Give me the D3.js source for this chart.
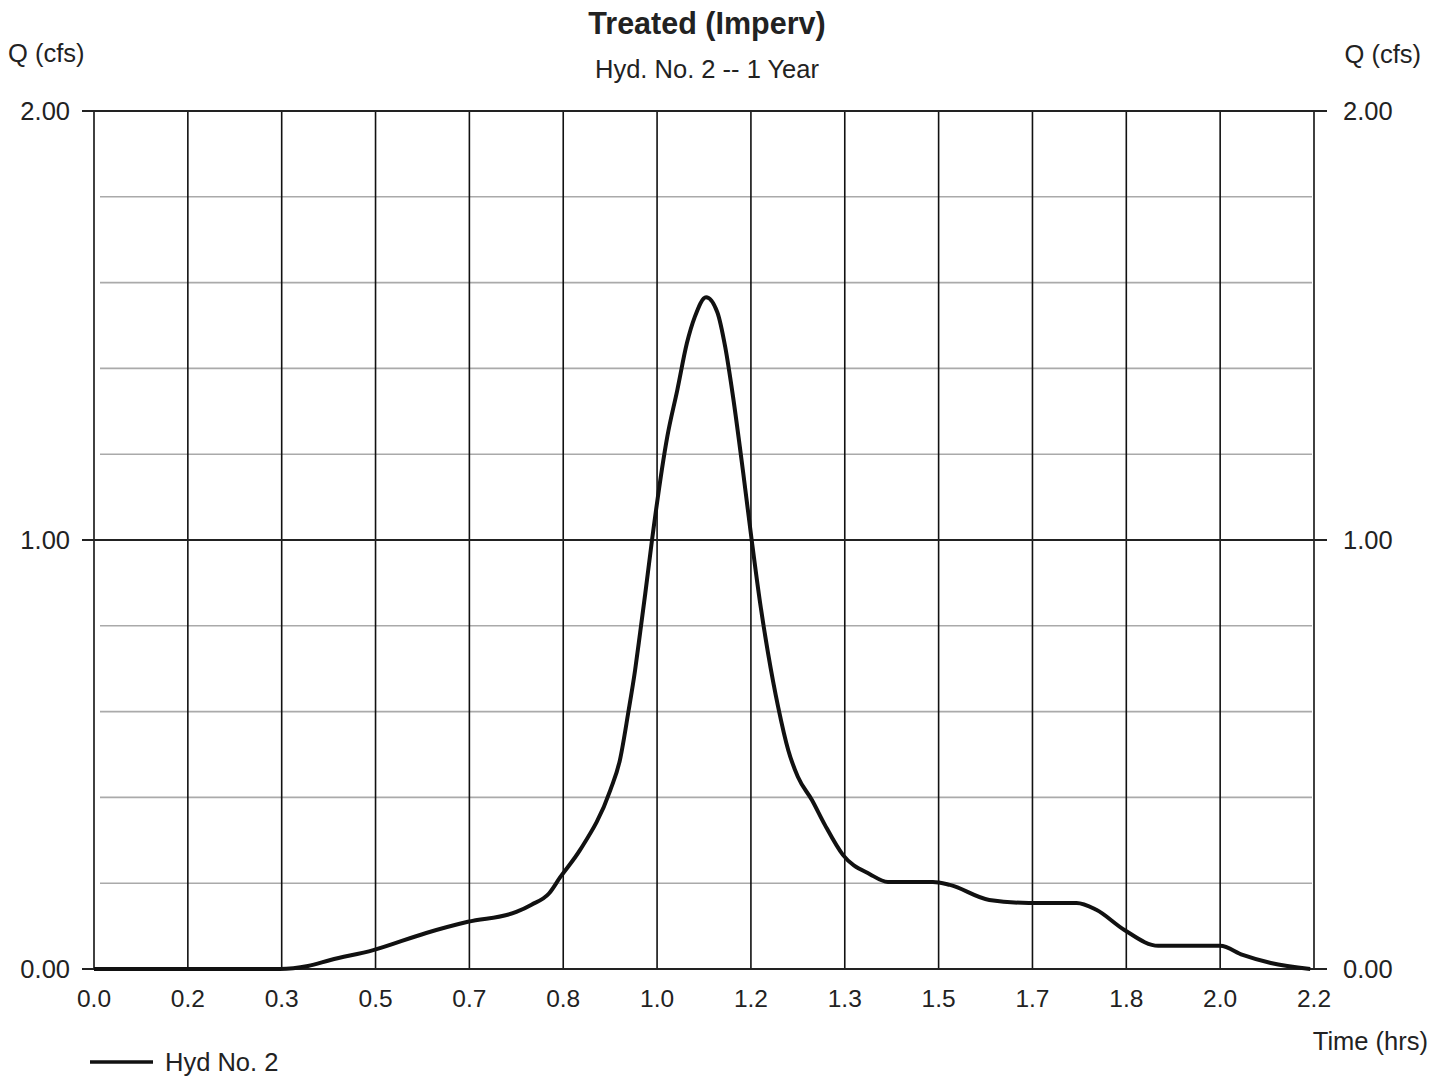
<!DOCTYPE html>
<html><head><meta charset="utf-8">
<script src="https://cdn.jsdelivr.net/npm/d3@7"></script>
<style>
html,body{margin:0;padding:0;background:#fff;}
svg{display:block;font-family:"Liberation Sans",Arial,sans-serif;}
</style></head>
<body>
<svg id="chart" width="1446" height="1076"></svg>
<script>
const titleText = "Treated (Imperv)";
const subtitleText = "Hyd. No. 2 -- 1 Year";
const seriesName = "Hyd No. 2";
const xTickValues = [0, 1/6, 2/6, 3/6, 4/6, 5/6, 1, 7/6, 8/6, 9/6, 10/6, 11/6, 2, 13/6];
const xTickLabels = ["0.0","0.2","0.3","0.5","0.7","0.8","1.0","1.2","1.3","1.5","1.7","1.8","2.0","2.2"];
const yMajorTicks = [0, 1, 2];
const yMajorLabels = ["0.00","1.00","2.00"];
const yMinorTicks = [0.2, 0.4, 0.6, 0.8, 1.2, 1.4, 1.6, 1.8];
const timeHrs = [0, 0.33, 0.38, 0.42, 0.496, 0.59, 0.664, 0.75, 0.777, 0.808, 0.828, 0.863, 0.917, 0.934, 0.949, 0.961, 0.970, 0.979, 0.991, 1.018, 1.036, 1.053, 1.067, 1.087, 1.107, 1.121, 1.135, 1.153, 1.168, 1.183, 1.197, 1.215, 1.233, 1.25, 1.275, 1.298, 1.33, 1.378, 1.41, 1.49, 1.52, 1.59, 1.66, 1.745, 1.78, 1.83, 1.89, 2.0, 2.04, 2.09, 2.16];
const flowCfs = [0, 0, 0.007, 0.021, 0.044, 0.084, 0.110, 0.133, 0.150, 0.176, 0.214, 0.277, 0.417, 0.487, 0.599, 0.697, 0.785, 0.875, 1.0, 1.24, 1.35, 1.459, 1.52, 1.566, 1.531, 1.45, 1.333, 1.156, 1.0, 0.853, 0.737, 0.611, 0.51, 0.448, 0.394, 0.336, 0.266, 0.221, 0.203, 0.203, 0.196, 0.161, 0.154, 0.154, 0.138, 0.091, 0.054, 0.054, 0.033, 0.014, 0];

const svg = d3.select("#chart");
const L = 94, R = 1314, T = 111, B = 969;
const x = d3.scaleLinear().domain([0, 13/6]).range([L, R]);
const y = d3.scaleLinear().domain([0, 2]).range([B, T]);
const FS = 25.5;

// minor horizontal gridlines
svg.append("g").selectAll("line").data(yMinorTicks).join("line")
  .attr("x1", L + 6).attr("x2", R - 2)
  .attr("y1", d => y(d)).attr("y2", d => y(d))
  .attr("stroke", "#aaaaaa").attr("stroke-width", 1.6);

// vertical gridlines
svg.append("g").selectAll("line").data(xTickValues).join("line")
  .attr("x1", d => x(d)).attr("x2", d => x(d))
  .attr("y1", T).attr("y2", B)
  .attr("stroke", "#111").attr("stroke-width", 1.6);

// major horizontal lines (extend as ticks on both sides)
svg.append("g").selectAll("line").data(yMajorTicks).join("line")
  .attr("x1", L - 12).attr("x2", R + 13)
  .attr("y1", d => y(d)).attr("y2", d => y(d))
  .attr("stroke", "#222").attr("stroke-width", 2);

// left / right tick labels
svg.append("g").selectAll("text").data(yMajorTicks).join("text")
  .attr("x", 70).attr("y", d => y(d)).attr("dy", "0.35em")
  .attr("text-anchor", "end").attr("font-size", FS).attr("fill", "#222")
  .text((d, i) => yMajorLabels[i]);
svg.append("g").selectAll("text").data(yMajorTicks).join("text")
  .attr("x", 1343).attr("y", d => y(d)).attr("dy", "0.35em")
  .attr("text-anchor", "start").attr("font-size", FS).attr("fill", "#222")
  .text((d, i) => yMajorLabels[i]);

// bottom tick labels
svg.append("g").selectAll("text").data(xTickValues).join("text")
  .attr("x", d => x(d)).attr("y", 1007)
  .attr("text-anchor", "middle").attr("font-size", 24.5).attr("fill", "#222")
  .text((d, i) => xTickLabels[i]);

// hydrograph
const line = d3.line().x(d => x(d[0])).y(d => y(d[1])).curve(d3.curveMonotoneX);
svg.append("path").datum(timeHrs.map((t, i) => [t, flowCfs[i]]))
  .attr("d", line).attr("fill", "none").attr("stroke", "#111")
  .attr("stroke-width", 4).attr("stroke-linejoin", "round");

// titles
svg.append("text").attr("x", 707).attr("y", 34).attr("text-anchor", "middle")
  .attr("font-size", 30.5).attr("font-weight", "bold").attr("fill", "#222").text(titleText);
svg.append("text").attr("x", 707).attr("y", 78).attr("text-anchor", "middle")
  .attr("font-size", FS).attr("fill", "#222").text(subtitleText);
svg.append("text").attr("x", 8).attr("y", 62).attr("font-size", FS).attr("fill", "#222").text("Q (cfs)");
svg.append("text").attr("x", 1421).attr("y", 63).attr("text-anchor", "end").attr("font-size", FS).attr("fill", "#222").text("Q (cfs)");
svg.append("text").attr("x", 1428).attr("y", 1050).attr("text-anchor", "end").attr("font-size", FS).attr("fill", "#222").text("Time (hrs)");

// legend
svg.append("line").attr("x1", 90).attr("x2", 153).attr("y1", 1062).attr("y2", 1062)
  .attr("stroke", "#111").attr("stroke-width", 3.5);
svg.append("text").attr("x", 165).attr("y", 1071).attr("font-size", FS).attr("fill", "#222").text(seriesName);
</script>
</body></html>
